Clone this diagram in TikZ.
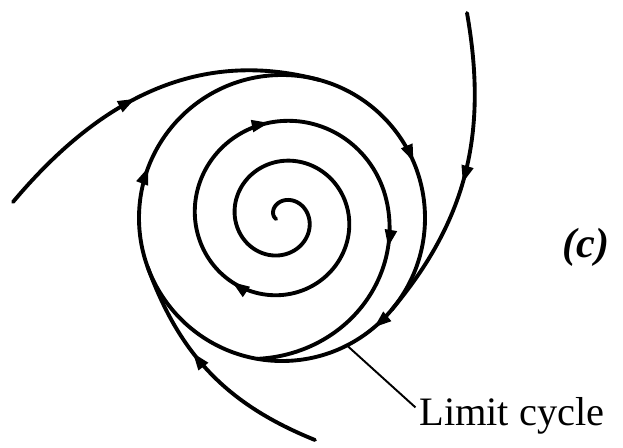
\documentclass[tikz,border=0pt]{standalone}
\usepackage{fontspec}
\setmainfont{Liberation Serif}
\usetikzlibrary{arrows.meta, decorations.markings}

\begin{document}
\begin{tikzpicture}[
    x=0.02cm, y=0.02cm,
    traj/.style={line width=2.2pt, line cap=round},
    tip/.style={postaction={decorate, decoration={markings,
                mark=at position #1 with {\arrow{Triangle[length=10pt, width=6.5pt]}}}}},
    leader/.style={line width=1.1pt},
    lbl/.style={font=\fontsize{23}{27}\selectfont, inner sep=0pt},
    tag/.style={font=\fontsize{24}{28}\selectfont\bfseries\itshape, inner sep=0pt},
    declare function={sr(\t)=17+\t/9+0.002057*max(0,\t-800)*max(0,\t-800);}
]
\useasboundingbox (0,0) rectangle (623,447);
%% points on the limit cycle (centre 282,229, radius 143)
\coordinate (m1) at ({282+143*sin(15)},{229+143*cos(15)});
\coordinate (m2) at ({282+143*sin(130)},{229+143*cos(130)});
\coordinate (m3) at ({282+143*sin(250)},{229+143*cos(250)});
\coordinate (lcpt) at ({282+143*sin(153)},{229+143*cos(153)});
%% limit cycle
\draw[traj, tip=0.186, tip=0.389, tip=0.808]
    (282,372) arc[start angle=90, end angle=-270, radius=143];
%% spiral from the focus
\draw[traj, tip=0.467, tip=0.653, tip=0.834]
    plot[domain=-100:910, samples=500, variable=\t]
    ({282+sr(\t)*sin(\t)}, {229+sr(\t)*cos(\t)});
%% outside trajectories
\coordinate (s1) at (13,245);
\coordinate (s2) at (467,434);
\coordinate (s3) at (315,7);
\draw[traj, tip=0.46] (s1) to[out=50, in=165] (m1);
\draw[traj, tip=0.54] (s2) to[out=-80, in=50] (m2);
\draw[traj, tip=0.61] (s3) to[out=158, in=-70] (m3);
%% labels
\node[lbl, anchor=base west] (cyc) at (419,22) {Limit cycle};
\draw[leader] (lcpt) -- ([xshift=-2pt, yshift=10pt]cyc.base west);
\node[tag] (part) at (586,200) {(c)};
\end{tikzpicture}
\end{document}
